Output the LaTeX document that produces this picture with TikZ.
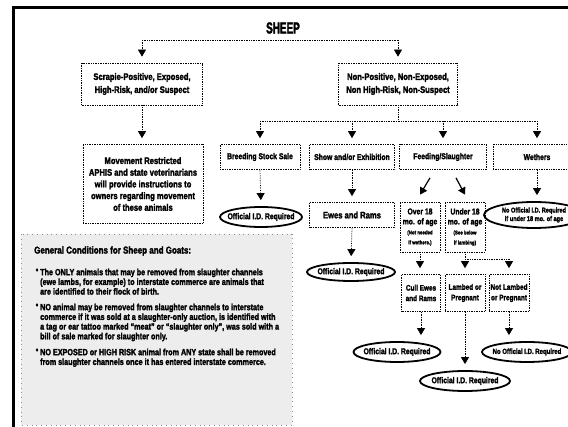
\documentclass[tikz,border=0pt]{standalone}
\usepackage{fontspec}
\newfontfamily\cond[FakeStretch=0.8, Ligatures=TeX, BoldFeatures={FakeBold=2}]{Liberation Sans}
\newfontfamily\tallcond[FakeStretch=0.62, BoldFeatures={FakeBold=2}]{Liberation Sans}
\usetikzlibrary{shapes.geometric,arrows.meta}
\newcommand\finetext{\fontsize{5.5}{6}\selectfont}

\tikzset{
  box/.style={draw, densely dotted, line width=0.7pt, align=center, inner sep=1pt,
    font=\cond\bfseries\fontsize{8.5}{9.5}\selectfont},
  idoval/.style={draw, ellipse, solid, line width=1.8pt, inner xsep=-8pt, inner ysep=-1pt, align=center,
    font=\cond\bfseries\fontsize{8.5}{9}\selectfont},
  link/.style={densely dotted, line width=0.7pt},
  flow/.style={link, -{Triangle[width=8pt,length=7pt]}, shorten >=6pt},
  diag/.style={line width=1.2pt, -{Triangle[width=8pt,length=7pt]}},
  note/.style={align=left, inner sep=0pt, font=\cond\bfseries\fontsize{9}{9.7}\selectfont},
}

\begin{document}
\begin{tikzpicture}[x=1pt,y=-1pt]
\clip (0,0) rectangle (568,427);
% frame
\draw[line width=3pt] (13,427) -- (13,8) -- (568,8);

% top level
\node[font=\tallcond\bfseries\fontsize{16}{16}\selectfont] (sheep) at (283,28) {SHEEP};
\node[box, font=\cond\bfseries\fontsize{9.5}{13}\selectfont, minimum width=121pt, minimum height=42pt]
  (scrapie) at (142,84) {Scrapie-Positive, Exposed,\\High-Risk, and/or Suspect};
\node[box, font=\cond\bfseries\fontsize{9.5}{13}\selectfont, minimum width=119pt, minimum height=42pt]
  (nonpos) at (398,84) {Non-Positive, Non-Exposed,\\Non High-Risk, Non-Suspect};
\coordinate (topbar) at (283,40);
\draw[link] (scrapie.north |- topbar) -- (nonpos.north |- topbar);
\draw[flow] (scrapie.north |- topbar) -- (scrapie.north);
\draw[flow] (nonpos.north |- topbar) -- (nonpos.north);

% restricted animals
\node[box, font=\cond\bfseries\fontsize{9.5}{11.7}\selectfont, minimum width=120pt, minimum height=79pt]
  (movement) at (143,184) {Movement Restricted\\APHIS and state veterinarians\\will provide instructions to\\owners regarding movement\\of these animals};
\draw[flow] (scrapie.south) -- (scrapie.south |- movement.north);

% second level
\node[box, minimum width=80pt, minimum height=25pt] (breeding) at (260,157) {Breeding Stock Sale};
\node[box, minimum width=85pt, minimum height=25pt] (show) at (352,157) {Show and/or Exhibition};
\node[box, minimum width=87pt, minimum height=25pt] (feeding) at (443,157) {Feeding/Slaughter};
\node[box, minimum width=88pt, minimum height=25pt] (wethers) at (537,157) {Wethers};
\coordinate (midbar) at (398,121);
\draw[link] (nonpos.south) -- (midbar);
\draw[link] (breeding.north |- midbar) -- (wethers.north |- midbar);
\foreach \n in {breeding,show,feeding,wethers}
  \draw[flow] (\n.north |- midbar) -- (\n.north);

% third level
\node[idoval, minimum width=82pt, minimum height=20pt] (idbreed) at (261,217) {Official I.D. Required};
\node[box, font=\cond\bfseries\fontsize{9.5}{11}\selectfont, minimum width=85pt, minimum height=25pt]
  (ewesrams) at (352,215) {Ewes and Rams};
\node[idoval, minimum width=88pt, minimum height=18pt] (idshow) at (351,272) {Official I.D. Required};
\node[box, font=\cond\bfseries\fontsize{8.5}{10}\selectfont, minimum width=40pt, minimum height=50pt]
  (over) at (420,227) {Over 18\\mo. of age\\{\finetext(Not needed}\\{\finetext if wethers.)}};
\node[box, font=\cond\bfseries\fontsize{8.5}{10}\selectfont, minimum width=40pt, minimum height=50pt]
  (under) at (465,227) {Under 18\\mo. of age\\{\finetext(See below}\\{\finetext if lambing)}};
\node[idoval, font=\cond\bfseries\fontsize{7}{8.5}\selectfont, minimum width=100pt, minimum height=26pt]
  (idwether) at (534,215) {No Official I.D. Required\\if under 18 mo. of age};
\draw[flow] (breeding.south) -- (idbreed.north);
\draw[flow] (show.south) -- (ewesrams.north);
\draw[flow] (ewesrams.south) -- (idshow.north);
\draw[flow] (wethers.south) -- (wethers.south |- idwether.north);
\draw[diag] ([shift={(-13,8)}]feeding.south) -- ([shift={(0,-7)}]over.north);
\draw[diag] ([shift={(13,8)}]feeding.south) -- ([shift={(0,-7)}]under.north);

% feeding / slaughter branches
\node[box, font=\cond\bfseries\fontsize{8}{10.5}\selectfont, minimum width=39pt, minimum height=37pt]
  (cull) at (421,293) {Cull Ewes\\and Rams};
\node[box, font=\cond\bfseries\fontsize{8}{10.5}\selectfont, minimum width=40pt, minimum height=37pt]
  (lambed) at (465,293) {Lambed or\\Pregnant};
\node[box, font=\cond\bfseries\fontsize{8}{10.5}\selectfont, minimum width=40pt, minimum height=37pt]
  (notlambed) at (509,293) {Not Lambed\\or Pregnant};
\coordinate (lowbar) at (465,259);
\draw[flow] (over.south) -- (over.south |- cull.north);
\draw[flow] (under.south) -- (lambed.north);
\draw[link] (lowbar) -- (notlambed.north |- lowbar);
\draw[flow] (notlambed.north |- lowbar) -- (notlambed.north);

\node[idoval, minimum width=87pt, minimum height=20pt] (idcull) at (397,352) {Official I.D. Required};
\node[idoval, minimum width=90pt, minimum height=20pt] (idlambed) at (465,381) {Official I.D. Required};
\node[idoval, font=\cond\bfseries\fontsize{7.5}{9}\selectfont, minimum width=90pt, minimum height=20pt]
  (idnot) at (527,352) {No Official I.D. Required};
\draw[flow] (cull.south) -- (cull.south |- idcull.north);
\draw[flow] (lambed.south) -- (idlambed.north);
\draw[flow] (notlambed.south) -- (notlambed.south |- idnot.north);

% general conditions
\fill[black!7] (21,234) rectangle (292,425);
\draw[black!45, loosely dotted, line width=0.8pt] (21,234) rectangle (292,425);
\node[note, font=\cond\bfseries\fontsize{10}{10}\selectfont, anchor=west] (gentitle) at (34,251)
  {General Conditions for Sheep and Goats:};
\node[note, anchor=north west] (bone) at (40,268.5)
  {The ONLY animals that may be removed from slaughter channels\\
   (ewe lambs, for example) to interstate commerce are animals that\\
   are identified to their flock of birth.};
\node[note, anchor=north west] (btwo) at (40,303.5)
  {NO animal may be removed from slaughter channels to interstate\\
   commerce if it was sold at a slaughter-only auction, is identified with\\
   a tag or ear tattoo marked ``meat'' or ``slaughter only'', was sold with a\\
   bill of sale marked for slaughter only.};
\node[note, anchor=north west] (bthree) at (40,348.5)
  {NO EXPOSED or HIGH RISK animal from ANY state shall be removed\\
   from slaughter channels once it has entered interstate commerce.};
\foreach \b in {bone,btwo,bthree}
  \node[note, anchor=north east, xshift=-1.5pt] (\b dot) at (\b.north west) {•};
\end{tikzpicture}
\end{document}
